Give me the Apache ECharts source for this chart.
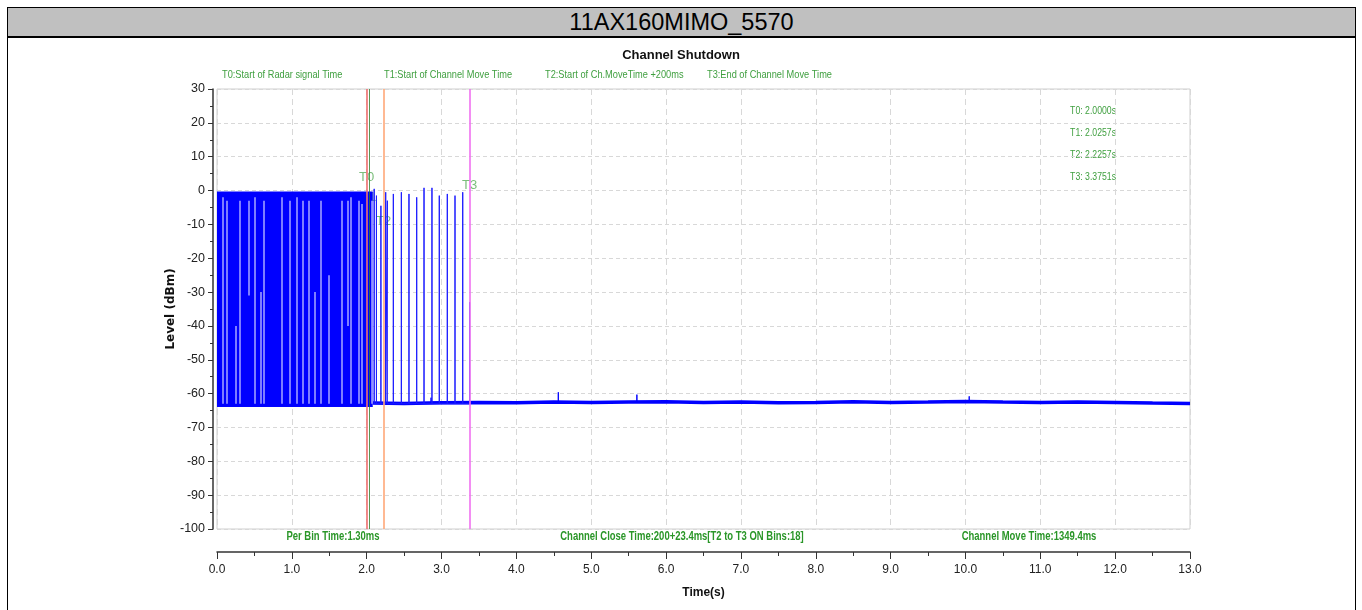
<!DOCTYPE html>
<html>
<head>
<meta charset="utf-8">
<title>11AX160MIMO_5570</title>
<script src="https://cdn.jsdelivr.net/npm/echarts@6/dist/echarts.min.js"></script>
<style>
  html, body { margin: 0; padding: 0; background: #fff; overflow: hidden; }
  #frame { position: absolute; left: 7px; top: 7px; width: 1349px; height: 620px; border: 1px solid #000; box-sizing: border-box; }
  #head { height: 28px; background: #c0c0c0; border-bottom: 2px solid #000; text-align: center;
          font: 23.5px 'Liberation Sans', Arial, sans-serif; line-height: 28px; color: #000; }
  #chart { position: absolute; left: 0; top: 0; width: 1362px; height: 610px; }
</style>
</head>
<body>
<div id="frame"><div id="head">11AX160MIMO_5570</div></div>
<div id="chart"></div>
<script>
  // dense radar burst before the channel move: time span (s) and level span (dBm)
  const burstSpan = [0.0, 2.08];
  const burstLevels = [-63.8, -0.3];
  // light streaks inside the burst: [time, top dBm, bottom dBm]
  const burstGaps = [
    [0.08, -2, -63], [0.13, -3, -63], [0.25, -40, -63], [0.31, -3, -63], [0.43, -3, -31],
    [0.51, -2, -63], [0.58, -30, -63], [0.62, -3, -63], [0.87, -2, -63], [0.97, -3, -63],
    [1.07, -2, -63], [1.14, -3, -63], [1.23, -3, -63], [1.31, -30, -63], [1.38, -3, -63],
    [1.49, -25, -63], [1.67, -3, -63], [1.75, -3, -40], [1.79, -2, -63], [1.89, -3, -63],
    [1.93, -4, -63], [2.07, -3, -63]
  ];
  // isolated pulses after T0: [time, peak dBm]
  const pulses = [
    [2.10, 0.5], [2.13, -1.5], [2.19, -4.5], [2.254, -0.5], [2.276, -3], [2.356, -1],
    [2.463, -0.5], [2.565, -1], [2.668, -2], [2.766, 0.8], [2.872, 0.8], [2.970, -1.5],
    [3.077, -1], [3.180, -1.5], [3.283, -0.5], [3.375, -33]
  ];
  const pulseBase = -63;
  // noise floor after the burst: [time, dBm]
  const floorLevels = [
    [2.08, -62.8], [2.5, -62.9], [3.0, -62.7], [3.5, -62.6], [4.0, -62.7], [4.5, -62.5],
    [5.0, -62.6], [5.5, -62.5], [6.0, -62.4], [6.5, -62.6], [7.0, -62.5], [7.5, -62.7],
    [8.0, -62.6], [8.5, -62.4], [9.0, -62.6], [9.5, -62.5], [10.0, -62.3], [10.5, -62.5],
    [11.0, -62.6], [11.5, -62.5], [12.0, -62.6], [12.5, -62.8], [13.0, -62.9]
  ];
  const floorSpikes = [[2.86, -61.2], [4.56, -59.6], [5.61, -60.3], [10.05, -60.8]];

  const markerNames = ['T0', 'T1', 'T2', 'T3'];
  const markerTimes = [2.0000, 2.0257, 2.2257, 3.3751];
  const markerLabelLevels = [4, -2, -9, 1.6];

  const legendTexts = [
    'T0:Start of Radar signal Time', 'T1:Start of Channel Move Time',
    'T2:Start of Ch.MoveTime +200ms', 'T3:End of Channel Move Time'
  ];
  const markerNotes = ['T0: 2.0000s', 'T1: 2.0257s', 'T2: 2.2257s', 'T3: 3.3751s'];
  const bottomNotes = [
    'Per Bin Time:1.30ms', 'Channel Close Time:200+23.4ms[T2 to T3 ON Bins:18]',
    'Channel Move Time:1349.4ms'
  ];

  const SANS = "'Liberation Sans', Arial, sans-serif";
  const GREEN = '#3f9f3f';
  const markerStyles = [
    { color: '#f07070', width: 2 },
    { color: '#2d7d2d', width: 1 },
    { color: '#ffa878', width: 2 },
    { color: '#f070f0', width: 2 }
  ];

  const chart = echarts.init(document.getElementById('chart'));

  const pulseData = [];
  pulses.forEach(function (p) {
    pulseData.push([p[0], pulseBase], [p[0], p[1]], [p[0], pulseBase]);
  });
  const spikeData = [];
  floorSpikes.forEach(function (s) {
    spikeData.push([s[0], -62.5], [s[0], s[1]], [s[0], -62.5]);
  });

  // narrow-looking texts: regular sans squeezed horizontally
  const graphics = [];
  const legendX = [222, 384, 545, 707];
  legendTexts.forEach(function (t, i) {
    graphics.push({
      type: 'text', x: legendX[i], y: 75, scaleX: 0.84, silent: true,
      style: { text: t, fill: GREEN, font: '11px ' + SANS, align: 'left', verticalAlign: 'middle' }
    });
  });
  markerNotes.forEach(function (t, i) {
    graphics.push({
      type: 'text', x: 1116, y: 111 + i * 22, scaleX: 0.79, silent: true,
      style: { text: t, fill: GREEN, font: '11px ' + SANS, align: 'right', verticalAlign: 'middle' }
    });
  });
  const noteX = [333, 682, 1029];
  bottomNotes.forEach(function (t, i) {
    graphics.push({
      type: 'text', x: noteX[i], y: 537, scaleX: 0.79, silent: true,
      style: { text: t, fill: '#2a9628', font: 'bold 12px ' + SANS, align: 'center', verticalAlign: 'middle' }
    });
  });

  chart.setOption({
    animation: false,
    title: {
      text: 'Channel Shutdown', left: 'center', top: 44,
      textStyle: { fontFamily: SANS, fontSize: 13, fontWeight: 'bold', color: '#111' }
    },
    grid: { left: 217, right: 172, top: 89, bottom: 81, show: true, borderColor: '#cfcfcf', borderWidth: 1, backgroundColor: '#fff' },
    xAxis: {
      type: 'value', min: 0, max: 13, interval: 1, offset: 23,
      name: 'Time(s)', nameLocation: 'middle', nameGap: 35,
      nameTextStyle: { fontFamily: SANS, fontSize: 12, fontWeight: 'bold', color: '#111' },
      axisLine: { show: true, onZero: false, lineStyle: { color: '#333', width: 1.5 } },
      axisTick: { show: true, length: 7, lineStyle: { color: '#333' } },
      minorTick: { show: true, splitNumber: 2, length: 4, lineStyle: { color: '#333' } },
      axisLabel: { margin: 12, fontFamily: SANS, fontSize: 12, color: '#222', formatter: function (v) { return v.toFixed(1); } },
      splitLine: { show: true, lineStyle: { color: '#d8d8d8', type: [6, 4] } }
    },
    yAxis: {
      type: 'value', min: -100, max: 30, interval: 10, offset: 4,
      name: 'Level (dBm)', nameLocation: 'middle', nameGap: 36, nameRotate: 90, nameMoveOverlap: false,
      nameTextStyle: { fontFamily: "'DejaVu Sans', sans-serif", fontSize: 12, fontWeight: 'bold', color: '#111' },
      axisLine: { show: true, onZero: false, lineStyle: { color: '#333', width: 1.5 } },
      axisTick: { show: true, length: 5, lineStyle: { color: '#333' } },
      minorTick: { show: true, splitNumber: 2, length: 3, lineStyle: { color: '#333' } },
      axisLabel: { margin: 8, fontFamily: SANS, fontSize: 12.5, color: '#222' },
      splitLine: { show: true, lineStyle: { color: '#d8d8d8', type: [4, 3] } }
    },
    series: [
      {
        name: 'labels', type: 'scatter', z: 0, symbolSize: 1, silent: true,
        itemStyle: { color: 'rgba(0,0,0,0)' },
        label: { show: true, position: 'inside', formatter: '{b}', color: '#5aae5a', fontFamily: SANS, fontSize: 13 },
        data: markerNames.map(function (n, i) { return { name: n, value: [markerTimes[i], markerLabelLevels[i]] }; })
      },
      {
        name: 'burst', type: 'line', showSymbol: false, silent: true,
        lineStyle: { color: '#0000ff', width: 1 },
        data: [[burstSpan[0], burstLevels[0]], [burstSpan[1], burstLevels[0]]],
        markArea: {
          silent: true, label: { show: false },
          itemStyle: { color: '#0000ff', opacity: 1 },
          data: [[{ coord: [burstSpan[0], burstLevels[0]] }, { coord: [burstSpan[1], burstLevels[1]] }]]
        },
        markLine: {
          silent: true, symbol: 'none', label: { show: false },
          lineStyle: { color: '#a8a8ff', width: 1.5, type: 'solid' },
          data: burstGaps.map(function (g) { return [{ coord: [g[0], g[1]] }, { coord: [g[0], g[2]] }]; })
        }
      },
      {
        name: 'floor', type: 'line', showSymbol: false, silent: true,
        lineStyle: { color: '#0000ff', width: 3.5 },
        data: floorLevels
      },
      {
        name: 'spikes', type: 'line', showSymbol: false, silent: true,
        lineStyle: { color: '#0000ff', width: 1 },
        data: spikeData
      },
      {
        name: 'pulses', type: 'line', showSymbol: false, silent: true,
        lineStyle: { color: '#1a1aff', width: 1 },
        data: pulseData
      },
      {
        name: 'markers', type: 'line', data: [], silent: true, z: 6,
        markLine: {
          silent: true, symbol: 'none', label: { show: false },
          data: markerTimes.map(function (t, i) {
            return { xAxis: t, lineStyle: { color: markerStyles[i].color, width: markerStyles[i].width, type: 'solid', opacity: 0.8 } };
          })
        }
      }
    ],
    graphic: graphics
  });

  window.addEventListener('resize', function () { chart.resize(); });
</script>
</body>
</html>
